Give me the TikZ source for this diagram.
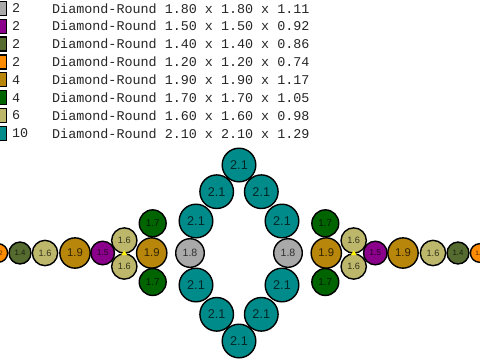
\documentclass[tikz,border=0pt]{standalone}
\usepackage{fontspec}
\setmainfont{Liberation Sans}
\newfontfamily\legendmono{Liberation Mono}
\definecolor{cgray}{RGB}{169,169,169}
\definecolor{cpurple}{RGB}{139,0,139}
\definecolor{colive}{RGB}{85,107,47}
\definecolor{corange}{RGB}{255,140,0}
\definecolor{cgold}{RGB}{184,134,11}
\definecolor{cgreen}{RGB}{0,100,0}
\definecolor{ckhaki}{RGB}{189,183,107}
\definecolor{cteal}{RGB}{0,139,139}
\tikzset{
  ball/.style={circle, draw=black, line width=1.4pt, inner sep=0pt, text opacity=0.72, text=black},
  s21/.style={ball, fill=cteal, minimum size=33.6pt, font=\fontsize{12.7}{13}\selectfont},
  s19/.style={ball, fill=cgold, minimum size=30.3pt, font=\fontsize{11.3}{12}\selectfont},
  s18/.style={ball, fill=cgray, minimum size=28.6pt, font=\fontsize{10.6}{11}\selectfont},
  s17/.style={ball, fill=cgreen, minimum size=26.9pt, font=\fontsize{9.9}{10}\selectfont},
  s16/.style={ball, fill=ckhaki, minimum size=25.3pt, font=\fontsize{9.2}{10}\selectfont},
  s15/.style={ball, fill=cpurple, minimum size=23.6pt, font=\fontsize{8.5}{9}\selectfont},
  s14/.style={ball, fill=colive, minimum size=21.9pt, font=\fontsize{7.8}{8}\selectfont},
  s12/.style={ball, fill=corange, minimum size=18.6pt, font=\fontsize{6.4}{7}\selectfont},
  swatch/.style={draw=black, line width=1.3pt},
  legtext/.style={anchor=west, inner sep=0pt, text=black!85, font=\legendmono\fontsize{13.4}{14}\selectfont},
  marker/.style={fill=yellow, draw=none}
}
\begin{document}
\begin{tikzpicture}[x=1pt,y=-1pt]
\useasboundingbox (0,0) rectangle (480,360);
% legend
\foreach \i/\c/\n/\t in {0/cgray/2/{1.80 x 1.80 x 1.11},
                          1/cpurple/2/{1.50 x 1.50 x 0.92},
                          2/colive/2/{1.40 x 1.40 x 0.86},
                          3/corange/2/{1.20 x 1.20 x 0.74},
                          4/cgold/4/{1.90 x 1.90 x 1.17},
                          5/cgreen/4/{1.70 x 1.70 x 1.05},
                          6/ckhaki/6/{1.60 x 1.60 x 0.98},
                          7/cteal/10/{2.10 x 2.10 x 1.29}}{
  \path[swatch, fill=\c] (-6,{8.3+17.86*\i-7}) rectangle (6.6,{8.3+17.86*\i+7});
  \node[legtext] (cnt\i) at (12,{8.3+17.86*\i}) {\n};
  \node[legtext] (txt\i) at (52,{8.3+17.86*\i}) {Diamond-Round \t};
}
% central ring
\node[s21] (r1) at (239,165) {2.1};
\node[s21] (r2l) at (216.7,191.7) {2.1};
\node[s21] (r2r) at (261.3,191.7) {2.1};
\node[s21] (r3l) at (196,221) {2.1};
\node[s21] (r3r) at (282,221) {2.1};
\node[s18] (r4l) at (190,253) {1.8};
\node[s18] (r4r) at (288,253) {1.8};
\node[s21] (r5l) at (196,285) {2.1};
\node[s21] (r5r) at (282,285) {2.1};
\node[s21] (r6l) at (216.7,314.3) {2.1};
\node[s21] (r6r) at (261.3,314.3) {2.1};
\node[s21] (r7) at (239,341) {2.1};
% left arm
\node[s12] (lo) at (-1.7,253) {1.2};
\node[s14] (lol) at (20,253) {1.4};
\node[s16] (lkh) at (45,253) {1.6};
\node[s19] (lgo) at (75,253) {1.9};
\node[s15] (lpu) at (102.7,253) {1.5};
\node[s16] (lkt) at (124.3,240.5) {1.6};
\node[s16] (lkb) at (124.3,266.5) {1.6};
\node[s19] (lgc) at (151.7,253) {1.9};
\node[s17] (lgt) at (152.7,223.3) {1.7};
\node[s17] (lgb) at (152.7,282) {1.7};
\path[marker] (121.2,255.2) -- (127.2,255.2) -- (124.2,250.4) -- cycle;
% right arm
\node[s12] (ro) at (479.7,253) {1.2};
\node[s14] (rol) at (458,253) {1.4};
\node[s16] (rkh) at (433,253) {1.6};
\node[s19] (rgo) at (403,253) {1.9};
\node[s15] (rpu) at (375.3,253) {1.5};
\node[s16] (rkt) at (353.7,240.5) {1.6};
\node[s16] (rkb) at (353.7,266.5) {1.6};
\node[s19] (rgc) at (326.3,253) {1.9};
\node[s17] (rgt) at (325.3,223.3) {1.7};
\node[s17] (rgb) at (325.3,282) {1.7};
\path[marker] (350.8,255.2) -- (356.8,255.2) -- (353.8,250.4) -- cycle;
\end{tikzpicture}
\end{document}
